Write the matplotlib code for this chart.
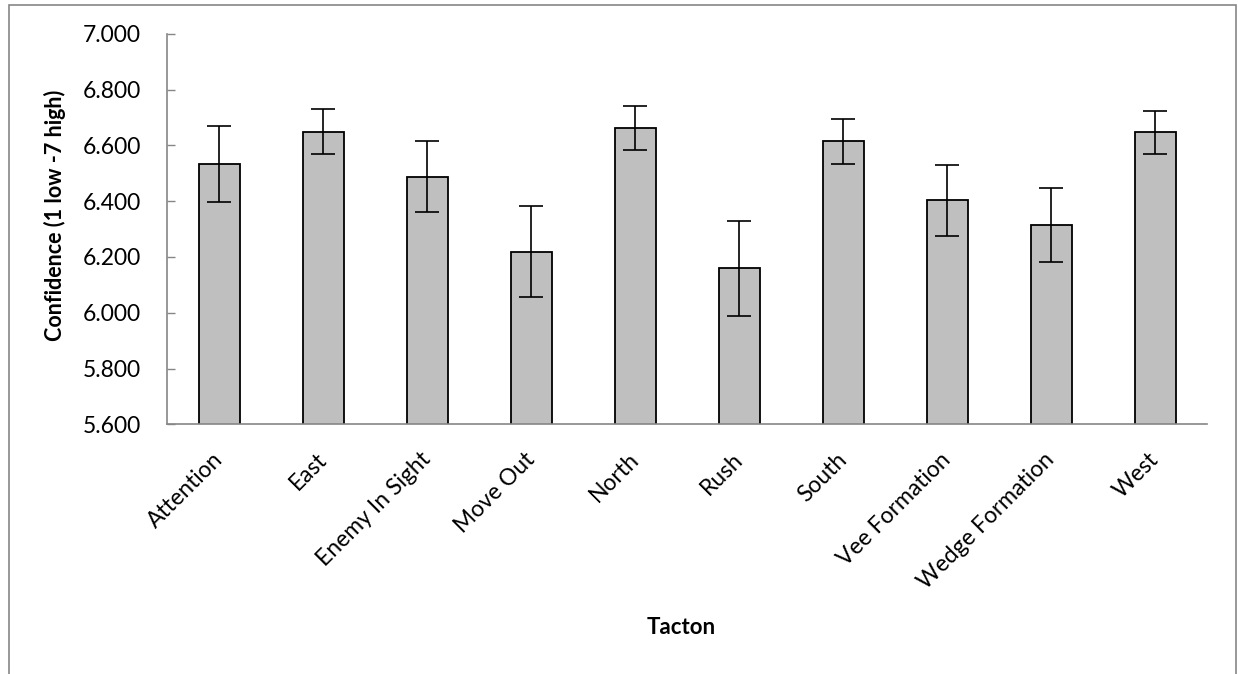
import matplotlib
matplotlib.use('Agg')
import matplotlib.pyplot as plt
from matplotlib.patches import Rectangle
import numpy as np

tactons = ['Attention', 'East', 'Enemy In Sight', 'Move Out', 'North',
           'Rush', 'South', 'Vee Formation', 'Wedge Formation', 'West']
confidence = [6.534, 6.649, 6.488, 6.219, 6.662, 6.160, 6.615, 6.403, 6.315, 6.648]
errors = [0.137, 0.080, 0.127, 0.163, 0.079, 0.170, 0.081, 0.127, 0.133, 0.077]
yticks = [5.6, 5.8, 6.0, 6.2, 6.4, 6.6, 6.8, 7.0]

plt.rcParams['font.family'] = ['Lato', 'DejaVu Sans']

W, H = 1238, 674
fig = plt.figure(figsize=(W / 100, H / 100), dpi=100)
ax = fig.add_axes([167.3 / W, 1 - 424.3 / H, (1207.3 - 167.3) / W, (424.3 - 33.9) / H])

x = np.arange(len(tactons))
ax.bar(x, confidence, width=0.4, color='#bfbfbf', edgecolor='black', linewidth=1.3,
       yerr=errors, capsize=8.5, error_kw=dict(elinewidth=1.2, capthick=1.2, ecolor='black'),
       zorder=2)

ax.set_xlim(-0.5, len(tactons) - 0.5)
ax.set_ylim(5.6, 7.0)
ax.set_yticks(yticks)
ax.set_yticklabels([f'{v:.3f}' for v in yticks])
ax.tick_params(axis='y', direction='in', length=6, width=1, color='#868686',
               pad=19, labelsize=16.5)
ax.set_xticks(x)
ax.set_xticklabels(tactons, rotation=45, ha='right', va='center',
                   rotation_mode='anchor', fontsize=16.5)
ax.tick_params(axis='x', length=0, pad=23)

for side in ['top', 'right']:
    ax.spines[side].set_visible(False)
for side in ['left', 'bottom']:
    ax.spines[side].set_color('#868686')
    ax.spines[side].set_linewidth(1.2)

fig.text(55 / W, 1 - 215 / H, 'Confidence (1 low -7 high)', rotation=90,
         ha='center', va='center', fontsize=15.5, fontweight='bold')
fig.text(681 / W, 1 - 628 / H, 'Tacton', ha='center', va='center',
         fontsize=16, fontweight='bold')

# outer chart border
fig.patches.append(Rectangle((9 / W, -0.05), (1236 - 9) / W, 1.05 - 5.3 / H,
                             transform=fig.transFigure, fill=False,
                             edgecolor='#868686', linewidth=1.2))

fig.savefig('out.png', dpi=100)
